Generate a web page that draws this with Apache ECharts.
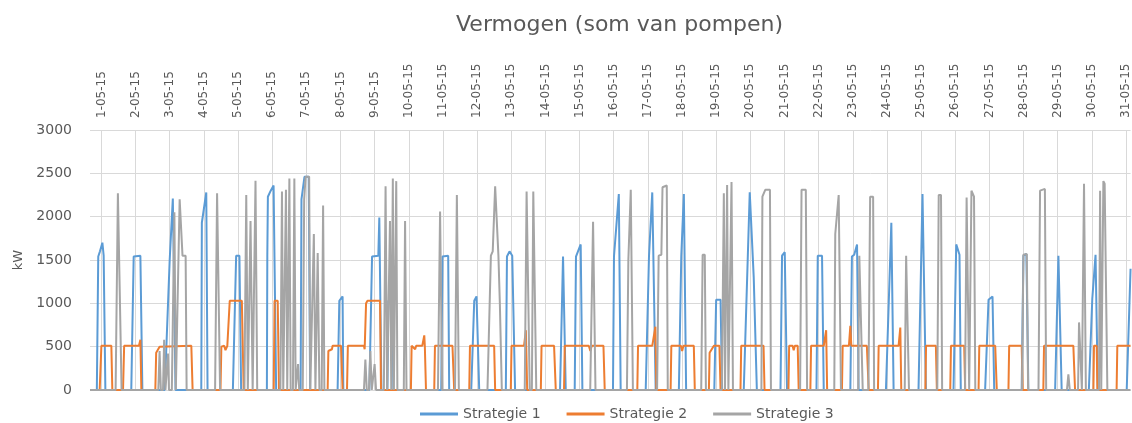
<!DOCTYPE html>
<html>
<head>
<meta charset="utf-8">
<script src="https://cdn.jsdelivr.net/npm/echarts@6/dist/echarts.min.js"></script>
<style>
html, body { margin: 0; padding: 0; background: #fff; }
#main { width: 1132px; height: 423px; }
</style>
</head>
<body>
<div id="main"></div>
<script>
// x = hours since 1-05-15 00:00, y = kW
var dayLabels = ['1-05-15', '2-05-15', '3-05-15', '4-05-15', '5-05-15', '6-05-15', '7-05-15', '8-05-15',
	'9-05-15', '10-05-15', '11-05-15', '12-05-15', '13-05-15', '14-05-15', '15-05-15', '16-05-15',
	'17-05-15', '18-05-15', '19-05-15', '20-05-15', '21-05-15', '22-05-15', '23-05-15', '24-05-15',
	'25-05-15', '26-05-15', '27-05-15', '28-05-15', '29-05-15', '30-05-15', '31-05-15'];
var seriesNames = ['Strategie 1', 'Strategie 2', 'Strategie 3'];

var strategie1 = [
	[-8, 0], [-3.2, 0], [-2.2, 1540], [-1, 1600], [0.7, 1700], [1.6, 1550], [2.8, 0],
	[21, 0], [22.7, 1540], [27.4, 1550], [28.8, 0],
	[44.5, 0], [48, 1500], [50.2, 2210], [52.1, 0],
	[70.2, 0], [70.6, 1930], [73.7, 2280], [74.6, 0],
	[92.4, 0], [94.7, 1550], [97, 1550], [98.2, 0],
	[116.3, 0], [116.6, 1550], [117, 2230], [119, 2300], [121, 2360], [122.8, 0],
	[140, 0], [140.6, 2200], [142.7, 2460], [145.7, 2460], [146.7, 0],
	[166, 0], [167.2, 1030], [169.5, 1080], [170, 0],
	[188.3, 0], [190.2, 1540], [194.6, 1550], [195.3, 1990], [196.8, 0],
	[201, 0], [201.6, 1030], [204.5, 1030], [205.2, 0],
	[238.8, 0], [239.7, 1540], [243.7, 1550], [244.4, 0],
	[259.9, 0], [262, 1030], [263.6, 1080], [265.5, 0],
	[284.2, 0], [285, 1540], [286.8, 1600], [288.7, 1550], [290.7, 0],
	[322.3, 0], [324.4, 1540], [326.3, 0],
	[332.6, 0], [333.5, 1540], [336.8, 1680], [338, 0],
	[359.5, 0], [360.2, 1540], [361.5, 1560], [363.6, 2260], [364.9, 0],
	[382.5, 0], [384.8, 1540], [387.1, 2280], [388.3, 2280], [389.5, 0],
	[405.8, 0], [407.5, 1550], [409.3, 2260], [410.9, 0],
	[430.7, 0], [432, 1040], [435.1, 1040], [436.2, 0],
	[451.4, 0], [455.6, 2280], [458.4, 1300], [460.6, 0],
	[477.2, 0], [478.3, 1550], [480.2, 1590], [481.8, 0],
	[502.5, 0], [503.4, 1550], [506.4, 1550], [507.6, 0],
	[526.3, 0], [527.4, 1540], [529, 1560], [531, 1680], [532.1, 0],
	[551.3, 0], [555.1, 1930], [556.7, 0],
	[574.2, 0], [577, 2260], [577.7, 2260], [579.4, 0],
	[598.8, 0], [600.7, 1680], [603, 1560], [603.9, 0],
	[621, 0], [623.4, 1040], [626.2, 1080], [627.4, 0],
	[646.7, 0], [647.9, 1550], [650, 1570], [651.4, 0],
	[670.2, 0], [672.5, 1550], [673.9, 1550], [674.8, 0],
	[693.9, 0], [696.3, 1050], [698.6, 1560], [699.3, 1560], [700.2, 0],
	[720.5, 0], [723.2, 1400]
];

var strategie2 = [
	[-8, 0], [-1.2, 0], [0, 510], [7, 510], [7.7, 0],
	[15.2, 0], [16, 510], [26.4, 510], [27.4, 580], [28.1, 0],
	[37.9, 0], [38.5, 430], [40.9, 500], [41.5, 510], [63.2, 510], [64.1, 0],
	[83.7, 0], [84.3, 500], [86.3, 510], [87.2, 460], [88.5, 510], [89.5, 510], [90.2, 1030], [98.7, 1030], [100, 0],
	[121.1, 0], [121.7, 1030], [123.9, 1030], [124.8, 0],
	[159, 0], [159.5, 450], [162, 470], [162.5, 510], [168.4, 510], [169.5, 0],
	[172.6, 0], [173.2, 510], [184.5, 510], [185, 470], [186, 1000], [187, 1030], [195.8, 1030], [196.5, 0],
	[217.5, 0], [218, 510], [220.5, 470], [221.2, 510], [225.5, 510], [226.9, 630], [227.3, 500], [228.1, 0],
	[233.9, 0], [234.4, 510], [246.7, 510], [247.9, 0],
	[258.5, 0], [259, 510], [276, 510], [276.7, 0],
	[287.7, 0], [288.2, 510], [297, 510], [298.3, 690], [299.2, 0],
	[308.8, 0], [309.3, 510], [318.1, 510], [319.3, 0],
	[325.1, 0], [325.6, 510], [342.5, 510], [343.6, 450], [344.6, 510], [352.8, 510], [353.7, 0],
	[376.6, 0], [377.1, 510], [387.1, 510], [389.3, 730], [390, 0],
	[400, 0], [400.5, 510], [407.2, 510], [408.1, 450], [409, 510], [416.3, 510], [417, 0],
	[426.9, 0], [427.4, 430], [430.4, 510], [434.3, 510], [435.1, 0],
	[449.1, 0], [449.6, 510], [465.3, 510], [466, 0],
	[482.8, 0], [483.3, 510], [485.7, 510], [486.5, 460], [487.3, 510], [489.3, 510], [490, 0],
	[498.2, 0], [498.7, 510], [507.6, 510], [509.3, 690], [510, 0],
	[520.4, 0], [520.9, 510], [525.3, 510], [526.3, 740], [527, 510], [537.9, 510], [539.2, 0],
	[545.7, 0], [546.2, 510], [560.2, 510], [561.4, 720], [562.1, 0],
	[579, 0], [579.5, 510], [586.4, 510], [587.1, 0],
	[596.5, 0], [597, 510], [606.3, 510], [607, 0],
	[616.4, 0], [616.9, 510], [628.1, 510], [629.2, 0],
	[637.4, 0], [637.9, 510], [646.7, 510], [647.4, 0],
	[661.9, 0], [662.4, 510], [683, 510], [684.2, 0],
	[697.1, 0], [697.5, 510], [699.4, 510], [699.9, 0],
	[713.4, 0], [713.9, 510], [723.2, 510]
];

var strategie3 = [
	[-8, 0], [10, 0], [11.6, 2270], [12.8, 2270], [14.2, 0],
	[40, 0], [40.9, 450], [41.8, 0], [43.3, 0], [44.1, 580], [45, 0], [46, 0], [46.8, 420], [47.5, 0],
	[49.5, 0], [51.3, 2050], [52.3, 0],
	[53.5, 0], [55, 2200], [56, 2200], [57, 1550], [59.2, 1550], [59.9, 0],
	[79.9, 0], [81.3, 2270], [82.2, 2270], [83.4, 0],
	[100.5, 0], [101.8, 2250], [102.9, 0], [103.8, 0], [104.8, 1950], [106.3, 0], [107, 0], [108.3, 2415], [109.5, 0],
	[125.8, 0], [126.9, 2290], [127.8, 0], [128.6, 0], [129.7, 2310], [130.6, 0], [131.1, 0], [132.1, 2440], [133, 0],
	[134.6, 0], [135.6, 2440], [136.5, 0], [137.5, 0], [138.2, 300], [139, 0],
	[141.5, 0], [142.5, 2200], [143.5, 2460], [146, 2460], [146.8, 0],
	[148, 0], [149.3, 1800], [150.4, 0], [151, 0], [152, 1580], [153.2, 0], [154.8, 0], [155.8, 2130], [156.7, 0],
	[184.5, 0], [185.5, 350], [186.5, 0], [188, 0], [189, 450], [190, 0], [191, 0], [192, 300], [193, 0],
	[198.5, 0], [199.7, 2350], [200.8, 0], [201.8, 0], [202.8, 1950], [203.7, 0], [204, 0], [204.8, 2440], [205.5, 0],
	[206.3, 0], [207.2, 2410], [208, 0], [212.5, 0], [213.4, 1950], [214.4, 0],
	[236.5, 0], [238, 2060], [239.5, 0], [248.5, 0], [249.8, 2250], [251.2, 0],
	[271.3, 0], [273.7, 1550], [275, 1600], [276.7, 2350], [277.6, 2350], [279, 1550], [280, 1000], [281.4, 0],
	[297.5, 0], [298.8, 2290], [300.2, 2290], [301, 0], [302.5, 0], [303.5, 2290], [304.8, 2290], [305.6, 0],
	[343.5, 0], [345.5, 1940], [347.2, 0],
	[369.3, 0], [370.3, 1500], [372, 2310], [373.5, 0],
	[390.5, 0], [391.6, 1550], [393.5, 1560], [394.3, 2340], [397.3, 2360], [398, 0],
	[421.5, 0], [422.5, 1560], [424, 1560], [424.8, 0],
	[436, 0], [437.4, 2270], [438.2, 0], [438.8, 0], [439.7, 2365], [440.6, 0], [441.8, 0], [442.8, 2400], [443.8, 0],
	[463.8, 0], [464.5, 2230], [465.5, 2230], [466.5, 2310], [469.8, 2310], [470.5, 0],
	[491, 0], [492, 2310], [495, 2310], [495.9, 0],
	[515, 0], [515.7, 1800], [516.5, 1800], [518.1, 2250], [519.7, 0],
	[531.8, 0], [532.6, 1550], [534, 1550], [535, 0], [539, 0], [540.2, 2230], [542.3, 2230], [543, 0],
	[564.5, 0], [565.5, 1550], [566.8, 1550], [567.5, 0],
	[587.4, 0], [588.4, 2250], [590, 2250], [590.8, 0],
	[606.9, 0], [608, 2220], [609, 2240], [609.8, 0], [610.4, 0], [611.4, 2300], [612.2, 2290], [613.2, 2230], [614.1, 0],
	[646.9, 0], [647.9, 1560], [650.3, 1570], [651.2, 0],
	[658.5, 0], [659.6, 2300], [663, 2320], [663.9, 0],
	[678.5, 0], [679.5, 180], [680.5, 0], [686.3, 0], [687, 780], [688.4, 780], [689, 0], [689.4, 0], [690.5, 2380], [691.8, 0],
	[701, 0], [701.8, 2300], [702.6, 0], [703.2, 0], [704.1, 2410], [705, 2380], [706, 2390], [706.9, 0],
	[723.2, 0]
];

var colors = ['#5b9bd5', '#ed7d31', '#a5a5a5'];
var textColor = '#595959';
var gridColor = '#d9d9d9';
var fontFamily = 'DejaVu Sans, sans-serif';

var myChart = echarts.init(document.getElementById('main'));

var option = {
	animation: false,
	backgroundColor: '#fff',
	color: colors,
	title: {
		text: 'Vermogen (som van pompen)',
		left: 451,
		top: 9,
		textStyle: {
			color: textColor,
			fontSize: 22,
			fontWeight: 'normal',
			fontFamily: fontFamily
		}
	},
	legend: {
		data: seriesNames,
		left: 415,
		bottom: -3,
		icon: 'rect',
		itemWidth: 38,
		itemHeight: 3,
		itemGap: 26,
		textStyle: {
			color: textColor,
			fontSize: 14,
			fontFamily: fontFamily
		}
	},
	grid: {
		left: 90,
		right: 0,
		top: 130,
		bottom: 33
	},
	xAxis: {
		type: 'value',
		position: 'top',
		min: -8,
		max: 723.2,
		interval: 8,
		axisLine: { show: false },
		axisTick: { show: false },
		axisLabel: {
			rotate: 90,
			margin: 12,
			color: textColor,
			fontSize: 12,
			fontFamily: fontFamily,
			formatter: function (v) {
				if (v >= 0 && v % 24 === 0) return dayLabels[v / 24] || '';
				return '';
			}
		},
		splitLine: {
			show: true,
			lineStyle: {
				color: ['rgba(0,0,0,0)', gridColor, 'rgba(0,0,0,0)'],
				width: 1
			}
		}
	},
	yAxis: {
		type: 'value',
		min: 0,
		max: 3000,
		interval: 500,
		name: 'kW',
		nameLocation: 'middle',
		nameGap: 64,
		nameRotate: 90,
		nameTextStyle: {
			color: textColor,
			fontSize: 13,
			fontFamily: fontFamily
		},
		axisLine: { show: false },
		axisTick: { show: false },
		axisLabel: {
			margin: 18,
			color: textColor,
			fontSize: 14,
			fontFamily: fontFamily,
			formatter: function (v) { return String(v); }
		},
		splitLine: {
			lineStyle: { color: gridColor, width: 1 }
		}
	},
	series: []
};

var allData = [strategie1, strategie2, strategie3];
for (var i = 0; i < allData.length; i++) {
	option.series.push({
		name: seriesNames[i],
		type: 'line',
		data: allData[i],
		showSymbol: false,
		symbol: 'none',
		lineStyle: { width: 2, color: colors[i] },
		itemStyle: { color: colors[i] }
	});
}

myChart.setOption(option);
</script>
</body>
</html>
